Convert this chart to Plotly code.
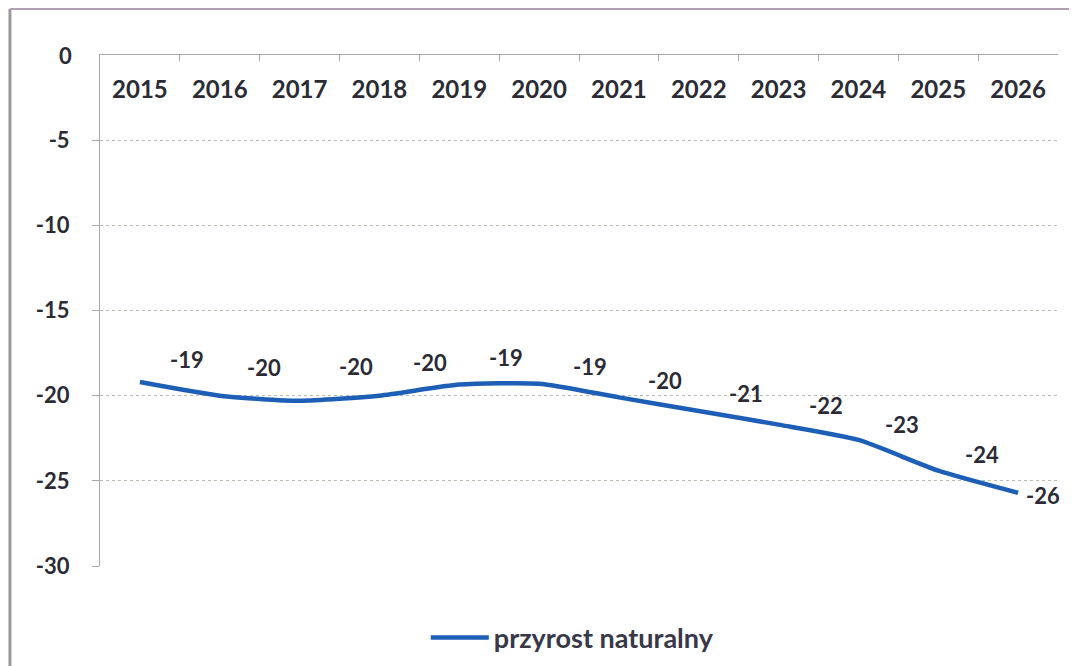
import plotly.graph_objects as go

years = ["2015", "2016", "2017", "2018", "2019", "2020", "2021", "2022", "2023", "2024", "2025", "2026"]
values = [-19.2, -20.0, -20.3, -20.0, -19.35, -19.3, -20.1, -20.9, -21.7, -22.6, -24.4, -25.7]
labels = ["-19", "-20", "-20", "-20", "-19", "-19", "-20", "-21", "-22", "-23", "-24", "-26"]
series_name = "przyrost naturalny"
y_ticks = [0, -5, -10, -15, -20, -25, -30]

# label offsets (pixels) relative to each point
label_dx = [47, 44, 56, 51, 47, 51, 46, 47, 47, 44, 44, 25]
label_dy = [23, 28, 34, 33, 27, 17, 17, 18, 19, 15, 16, -3]

FONT = "Lato"
TXT = "#2b2b35"
BLUE = "#1d5eb6"

fig = go.Figure()
fig.add_trace(go.Scatter(
    x=years, y=values, mode="lines", name=series_name,
    line=dict(color=BLUE, width=4.5, shape="spline", smoothing=0.6),
    hoverinfo="skip",
))

for i, (v, t, dx, dy) in enumerate(zip(values, labels, label_dx, label_dy)):
    fig.add_annotation(x=i, y=v, xref="x", yref="y", text="<b>%s</b>" % t, showarrow=False,
                       xshift=dx, yshift=dy, xanchor="center", yanchor="middle",
                       font=dict(family=FONT, size=22, color=TXT))

# y tick label at 0 (plotly hides it because the category labels sit inside)
fig.add_annotation(x=0, xref="paper", y=y_ticks[0], yref="y", text="<b>%d</b>" % y_ticks[0],
                   showarrow=False, xanchor="right", yanchor="middle", xshift=-26,
                   font=dict(family=FONT, size=22, color=TXT))

fig.update_layout(
    width=1077, height=666,
    margin=dict(l=92, r=27, t=47, b=108),
    paper_bgcolor="white", plot_bgcolor="white",
    showlegend=True,
    legend=dict(orientation="h", x=0.493, xanchor="center", y=-0.141, yanchor="middle",
                font=dict(family=FONT, size=27, color="#383848", weight="bold"),
                itemwidth=58),
    xaxis=dict(
        type="category", side="top", ticklabelposition="inside",
        showline=True, linecolor="#a8a8a8", linewidth=1,
        ticks="inside", ticklen=6, tickcolor="#a8a8a8", tickson="boundaries",
        showgrid=False, zeroline=False, automargin=False,
        tickfont=dict(family=FONT, size=24, color=TXT, weight="bold"),
        ticklabelstandoff=22,
        range=[-0.5, 11.5],
    ),
    yaxis=dict(
        range=[-30, 0], tickvals=y_ticks, ticktext=[str(v) for v in y_ticks],
        showline=True, linecolor="#a8a8a8", linewidth=1,
        ticks="outside", ticklen=7, tickcolor="#a8a8a8",
        showgrid=True, gridcolor="#b8bcae", gridwidth=1, griddash="dot",
        zeroline=False, automargin=False,
        tickfont=dict(family=FONT, size=22, color=TXT, weight="bold"),
        ticklabelstandoff=18,
    ),
)

# outer chart frame
fig.add_shape(type="line", xref="paper", yref="paper", x0=-0.094, x1=-0.094, y0=1.09, y1=-0.25,
              line=dict(color="#9a9a9a", width=3))
fig.add_shape(type="line", xref="paper", yref="paper", x0=-0.094, x1=1.03, y0=1.09, y1=1.09,
              line=dict(color="#b0a0b0", width=2))

fig.write_html("out.html")
